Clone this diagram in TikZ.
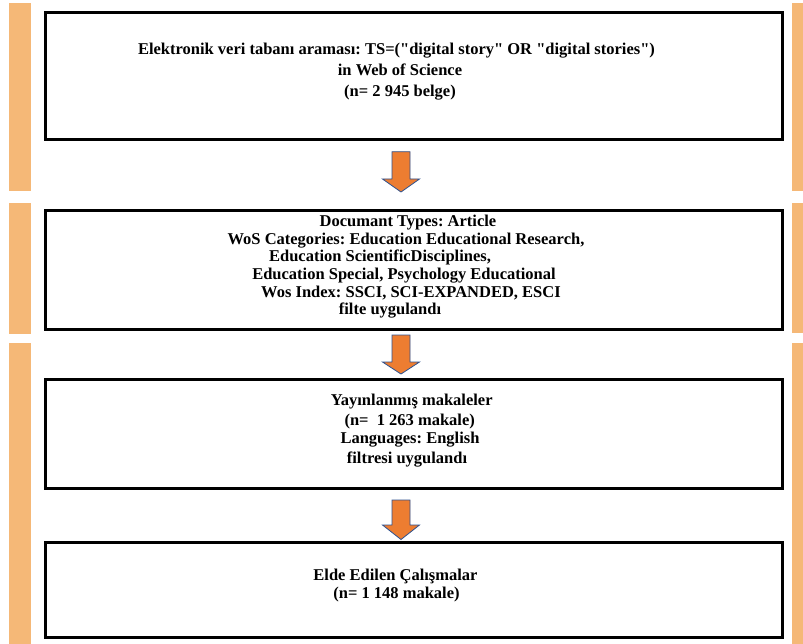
\documentclass[tikz,border=0pt]{standalone}
\usepackage{fontspec}
\setmainfont{Liberation Serif}
\frenchspacing
\newcommand{\dq}{\XeTeXglyph\XeTeXcharglyph"22\relax}
\definecolor{barorange}{HTML}{F5B877}
\definecolor{arroworange}{HTML}{ED7D31}
\definecolor{arrowline}{HTML}{2F528F}
\begin{document}
\begin{tikzpicture}[x=1pt,y=-1pt,
  bar/.style={fill=barorange,draw=none},
  stagebox/.style={draw=black,line width=3pt,fill=white},
  blockarrow/.style={fill=arroworange,draw=arrowline,line width=0.8pt,line join=miter},
  txt/.style={anchor=base,inner sep=0pt,font=\fontsize{16.5}{18}\selectfont\bfseries\frenchspacing}]
\useasboundingbox (0,0) rectangle (803,644);
\fill[white] (0,0) rectangle (803,644);
% side bars
\path[bar] (9,3) rectangle (31,191);
\path[bar] (9,203) rectangle (31,334);
\path[bar] (9,343) rectangle (31,644);
\path[bar] (791.7,3) rectangle (803,191);
\path[bar] (791.7,203) rectangle (803,333);
\path[bar] (791.7,343) rectangle (803,644);
% boxes
\draw[stagebox] (45.5,13) rectangle (782,139.3);
\draw[stagebox] (45.5,211) rectangle (782,329.5);
\draw[stagebox] (45.5,379) rectangle (782,488);
\draw[stagebox] (45.5,542) rectangle (782,637.5);
% arrows
\newcommand{\blockarr}[3]{%
  \draw[blockarrow] (392,#1) -- (410,#1) -- (410,#2) -- (419.5,#2) -- (401,#3)
    -- (382.5,#2) -- (392,#2) -- cycle;}
\blockarr{151.7}{179}{192}
\blockarr{335}{362}{374}
\blockarr{500}{525}{539.5}
% box 1 text
\node[txt] (t1a) at (396.5,54.6) {Elektronik veri tabanı araması: TS=(\dq digital story\dq{} OR \dq digital stories\dq)};
\node[txt] (t1b) at (400,75.6) {in Web of Science};
\node[txt] (t1c) at (400,96.6) {(n= 2 945 belge)};
% box 2 text
\node[txt] (t2a) at (408,226.4) {Documant Types: Article};
\node[txt] (t2b) at (406,244.1) {WoS Categories: Education Educational Research,};
\node[txt] (t2c) at (380,261.8) {Education ScientificDisciplines,};
\node[txt] (t2d) at (404,279.5) {Education Special, Psychology Educational};
\node[txt] (t2e) at (411,297.2) {Wos Index: SSCI, SCI-EXPANDED, ESCI};
\node[txt] (t2f) at (390,314.9) {filte uygulandı};
% box 3 text
\node[txt] (t3a) at (411.7,405.4) {Yayınlanmış makaleler};
\node[txt] (t3b) at (409.7,425) {(n=\ \ 1 263 makale)};
\node[txt] (t3c) at (410,443.7) {Languages: English};
\node[txt] (t3d) at (407,463) {filtresi uygulandı};
% box 4 text
\node[txt] (t4a) at (395.5,580.4) {Elde Edilen Çalışmalar};
\node[txt] (t4b) at (396.5,598.4) {(n= 1 148 makale)};
\end{tikzpicture}
\end{document}
